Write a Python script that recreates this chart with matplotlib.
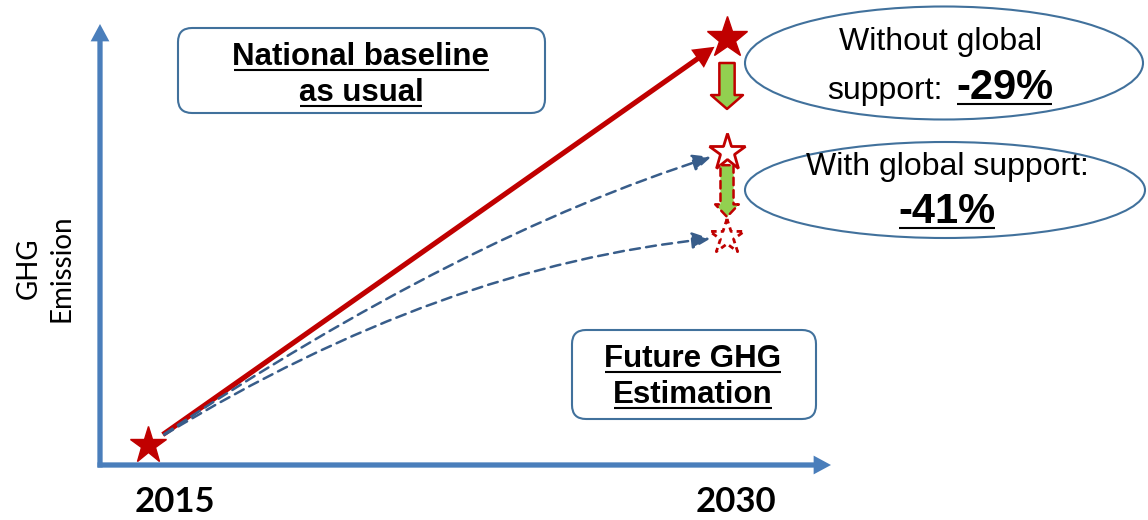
import matplotlib.pyplot as plt
from matplotlib.patches import FancyArrowPatch, FancyBboxPatch, Ellipse

# GHG emission levels (arbitrary units)
years = [2015, 2030]
year_labels = ['2015', '2030']
emission_2015 = 20
emission_bau = 427          # national baseline as usual
emission_no_support = 313   # without global support
emission_support = 228      # with global support
pct_no_support = '-29%'
pct_support = '-41%'

RED = '#C00000'
GREEN = '#92D050'
AXBLUE = '#4A7EBB'
DASHBLUE = '#385D8A'
EDGEBLUE = '#41719C'
ARIAL = 'Liberation Sans'
CALIBRI = 'Lato'

W, H = 1148, 520
fig = plt.figure(figsize=(W / 100, H / 100), dpi=100)

# overlay in pixel coords for frame, boxes and labels
ov = fig.add_axes([0, 0, 1, 1])
ov.set_xlim(0, W)
ov.set_ylim(H, 0)
ov.axis('off')

# data axes: x in years, y in emission units
ax = fig.add_axes([0, 0, 1, 1], facecolor='none')
px_per_year = (727 - 148) / 15
ax.set_xlim(2015 - 148 / px_per_year, 2015 + (W - 148) / px_per_year)
ax.set_ylim(465 - H, 465)
ax.axis('off')

# axis arrows (solid shaft + sharp head)
axis_style = 'simple,head_length=12.5,head_width=13.5,tail_width=3.8'
ov.add_patch(FancyArrowPatch((100, 467.5), (100, 24), arrowstyle=axis_style, mutation_scale=1,
                             shrinkA=0, shrinkB=0, fc=AXBLUE, lw=0))
ov.add_patch(FancyArrowPatch((97.5, 465), (831, 465), arrowstyle=axis_style, mutation_scale=1,
                             shrinkA=0, shrinkB=0, fc=AXBLUE, lw=0))

ov.text(45, 268, 'GHG\nEmission', rotation=90, ha='center', va='center',
        fontsize=20, family=CALIBRI, linespacing=1.35)
label_x = [175, 736]
for lx, lab in zip(label_x, year_labels):
    ov.text(lx, 512, lab, ha='center', va='baseline', fontsize=25,
            fontweight='bold', family=CALIBRI)

# business as usual
ax.add_patch(FancyArrowPatch((years[0], emission_2015), (years[1], emission_bau),
                             arrowstyle='simple,head_length=15,head_width=16,tail_width=3.7',
                             mutation_scale=1, shrinkA=13, shrinkB=11, fc=RED, lw=0, zorder=3))

# dashed reduction paths (start along the baseline, bend towards the target)
for level, angA, angB in [(emission_no_support, 34, 17), (emission_support, 32, 5)]:
    ax.annotate('', xy=(years[1], level), xytext=(years[0], emission_2015),
                arrowprops=dict(arrowstyle='-|>,head_length=1.1,head_width=0.5', mutation_scale=10,
                                lw=1.8, ls=(0, (4, 2.5)), color=DASHBLUE,
                                connectionstyle=f'angle3,angleA={angA},angleB={angB}',
                                shrinkA=14, shrinkB=12),
                zorder=4)

# stars
ax.plot(years[0], emission_2015, marker='*', ms=28, color=RED, zorder=5)
ax.plot(years[1], emission_bau, marker='*', ms=31, color=RED, zorder=5)
ax.plot(years[1], emission_no_support, marker='*', ms=28, mfc='white', mec=RED, mew=2, zorder=5)
ax.scatter([years[1]], [emission_support], marker='*', s=26 ** 2, facecolors='white',
           edgecolors=RED, linewidths=2, linestyles=[(0, (2, 1.5))], zorder=5)

# green reduction arrows
ax.add_patch(FancyArrowPatch((years[1], emission_bau), (years[1], emission_no_support),
                             arrowstyle='simple,head_length=10,head_width=23,tail_width=11',
                             mutation_scale=1, shrinkA=18, shrinkB=31,
                             fc=GREEN, ec=RED, lw=1.8, zorder=5))
ax.add_patch(FancyArrowPatch((years[1], emission_no_support), (years[1], emission_support),
                             arrowstyle='simple,head_length=9,head_width=17,tail_width=9.4',
                             mutation_scale=1, shrinkA=9.5, shrinkB=14.5,
                             fc=GREEN, ec=RED, lw=1.8, ls=(0, (3, 2)), zorder=5))

# boxes
ov.add_patch(FancyBboxPatch((178, 28), 367, 85, boxstyle='round,pad=0,rounding_size=14',
                            fc='white', ec=EDGEBLUE, lw=1.5))
ov.add_patch(FancyBboxPatch((572, 330), 244, 89, boxstyle='round,pad=0,rounding_size=14',
                            fc='white', ec=EDGEBLUE, lw=1.5))
ov.add_patch(Ellipse((944, 63), 398, 113, fc='white', ec=EDGEBLUE, lw=1.5))
ov.add_patch(Ellipse((945, 190), 400, 96, fc='white', ec=EDGEBLUE, lw=1.5))

underlined = []
for txt, x, y in [('National baseline', 361, 65), ('as usual', 361, 101),
                  ('Future GHG', 693, 367), ('Estimation', 693, 403)]:
    t = ov.text(x, y, txt, ha='center', va='baseline', fontsize=22.5,
                fontweight='bold', family=ARIAL)
    underlined.append((t, y))

ov.text(941, 50, 'Without global', ha='center', va='baseline', fontsize=23, family=ARIAL)
ov.text(943, 99, 'support:', ha='right', va='baseline', fontsize=23, family=ARIAL)
t = ov.text(956, 99, pct_no_support, ha='left', va='baseline', fontsize=30,
            fontweight='bold', family=ARIAL)
underlined.append((t, 99))
ov.text(947, 175, 'With global support:', ha='center', va='baseline', fontsize=23, family=ARIAL)
t = ov.text(947, 223, pct_support, ha='center', va='baseline', fontsize=30,
            fontweight='bold', family=ARIAL)
underlined.append((t, 223))

# underline the bold texts
fig.canvas.draw()
renderer = fig.canvas.get_renderer()
for t, y in underlined:
    bb = t.get_window_extent(renderer)
    ov.plot([bb.x0 + 1, bb.x1 - 1], [y + 5, y + 5], color='black', lw=1.5,
            solid_capstyle='butt')

fig.savefig('out.png', dpi=100)
